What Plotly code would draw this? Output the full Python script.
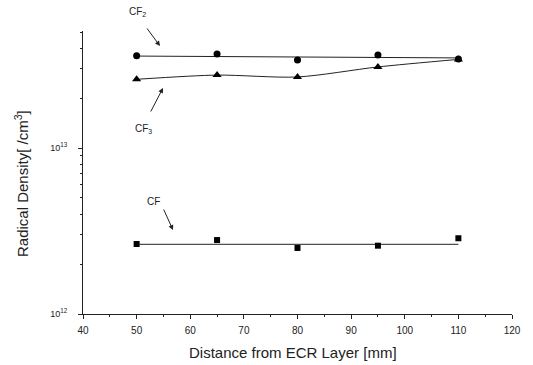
import numpy as np
import plotly.graph_objects as go

distance = [50, 65, 80, 95, 110]
cf2 = [3.60e13, 3.68e13, 3.39e13, 3.63e13, 3.44e13]
cf3 = [2.60e13, 2.75e13, 2.68e13, 3.08e13, 3.42e13]
cf = [2.64e12, 2.79e12, 2.50e12, 2.58e12, 2.86e12]

fit_x = [50.5, 110]
cf2_fit = [3.58e13, 3.49e13]
cf_fit = [2.63e12, 2.63e12]

x_ticks = [40, 50, 60, 70, 80, 90, 100, 110, 120]
y_ticks = [1e12, 1e13]
y_ticktext = ["10<sup>12</sup>", "10<sup>13</sup>"]

FONT = "Liberation Sans, Arial, sans-serif"
fig = go.Figure()

line_style = dict(color="#222", width=1)
fig.add_trace(go.Scatter(x=fit_x, y=cf2_fit, mode="lines", line=line_style, showlegend=False))
fig.add_trace(go.Scatter(x=[50.5] + distance[1:], y=cf3, mode="lines",
                         line=dict(color="#222", width=1, shape="spline", smoothing=0.8),
                         showlegend=False))
fig.add_trace(go.Scatter(x=fit_x, y=cf_fit, mode="lines", line=line_style, showlegend=False))

fig.add_trace(go.Scatter(x=distance, y=cf2, mode="markers",
                         marker=dict(symbol="circle", size=7, color="black"), showlegend=False))
fig.add_trace(go.Scatter(x=distance, y=cf3, mode="markers",
                         marker=dict(symbol="triangle-up", size=8, color="black"), showlegend=False))
fig.add_trace(go.Scatter(x=distance, y=cf, mode="markers",
                         marker=dict(symbol="square", size=6, color="black"), showlegend=False))

L, R, T, B = 83, 512, 31, 314

def px2p(px):
    return (px - L) / (R - L)

def py2p(py):
    return (B - py) / (B - T)

ann = []
for label, lx, ly, hx, hy, tx, ty in [
    ("CF<sub>2</sub>", 137, 12, 160, 46, 146, 27),
    ("CF<sub>3</sub>", 143, 129, 163, 88, 150, 113),
    ("CF", 153, 201, 173, 230, 163, 208),
]:
    ann.append(dict(x=px2p(lx), y=py2p(ly), xref="paper", yref="paper", text=label,
                    xanchor="center", yanchor="middle",
                    showarrow=False, font=dict(family=FONT, size=10, color="#222")))
    ann.append(dict(x=px2p(hx), y=py2p(hy), xref="paper", yref="paper", text="", showarrow=True,
                    ax=tx - hx, ay=ty - hy, arrowhead=2, arrowsize=1, arrowwidth=1,
                    arrowcolor="#222"))

# axis titles placed like the reference
ann.append(dict(x=px2p(21), y=py2p(184), xref="paper", yref="paper",
                xanchor="center", yanchor="middle",
                text="Radical Density[ /cm<sup>3</sup>]", textangle=-90, showarrow=False,
                font=dict(family=FONT, size=15, color="#222")))
ann.append(dict(x=px2p(293), y=py2p(352), xref="paper", yref="paper",
                xanchor="center", yanchor="middle",
                text="Distance from ECR Layer [mm]", showarrow=False,
                font=dict(family=FONT, size=15, color="#222")))

fig.update_layout(
    width=533, height=365,
    margin=dict(l=L, r=533 - R, t=T, b=365 - B, autoexpand=False),
    paper_bgcolor="white", plot_bgcolor="white",
    font=dict(family=FONT, color="#222"),
    annotations=ann,
    xaxis=dict(range=[40, 120], tickvals=x_ticks, showgrid=False, zeroline=False,
               automargin=False,
               showline=True, linecolor="#222", linewidth=1, ticks="outside", ticklen=4,
               tickcolor="#222", tickfont=dict(size=10), ticklabelstandoff=3,
               minor=dict(ticks="outside", ticklen=2, dtick=5, tickcolor="#222")),
    yaxis=dict(type="log", range=[12, np.log10(5.07e13)], tickvals=y_ticks, ticktext=y_ticktext,
               automargin=False,
               showgrid=False, zeroline=False, showline=True, linecolor="#222", linewidth=1,
               ticks="outside", ticklen=4, tickcolor="#222", tickfont=dict(size=9),
               ticklabelstandoff=9,
               minor=dict(ticks="outside", ticklen=2, tickcolor="#222",
                          tickvals=[2e12, 3e12, 4e12, 5e12, 6e12, 7e12, 8e12, 9e12,
                                    2e13, 3e13, 4e13, 5e13])),
)

fig.write_html("out.html")
